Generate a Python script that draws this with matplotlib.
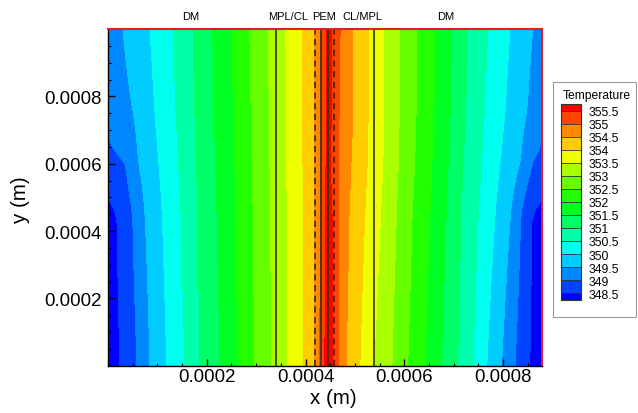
import numpy as np
import matplotlib
matplotlib.use('Agg')
import matplotlib.pyplot as plt
from matplotlib.colors import ListedColormap, BoundaryNorm

plt.rcParams['font.family'] = ['Liberation Sans', 'DejaVu Sans']

# contour levels and band colours (Tecplot small rainbow, 16 bands)
levels = np.arange(348.5, 355.51, 0.5)
band_colors = ['#0000ff', '#0044ff', '#0088ff', '#00ccff', '#00ffee', '#00ffaa',
               '#00ff66', '#00ff22', '#22ff00', '#66ff00', '#aaff00', '#eeff00',
               '#ffcc00', '#ff8800', '#ff4400', '#ff0000']

# temperature read along rows of the picture: x in um, T in K
row_y_mm = [0.0, 0.45, 0.6, 0.75, 1.0]

bot_x = [0, 24, 59, 85, 119, 156, 186, 227, 263, 297, 332, 364, 397, 419, 429, 439, 447,
         455, 466, 482, 510, 538, 575, 607, 642, 675, 708, 739, 767, 797, 824, 854, 880]
bot_T = [348.2, 348.5, 349, 349.5, 350, 350.5, 351, 351.5, 352, 352.5, 353, 353.5, 354, 354.5,
         355, 355.5, 355.7, 355.5, 355, 354.5, 354, 353.5, 353, 352.5, 352, 351.5, 351, 350.5,
         350, 349.5, 349, 348.5, 348.2]

r045_x = [0, 18, 50, 75, 110, 148, 182, 221, 259, 294, 329, 363, 396, 419, 430, 440, 447,
          454, 466, 488, 520, 552, 584, 616, 652, 685, 715, 750, 784, 815, 836, 858, 880]
r045_T = [348.35, 348.5, 349, 349.5, 350, 350.5, 351, 351.5, 352, 352.5, 353, 353.5, 354, 354.5,
          355, 355.5, 355.6, 355.5, 355, 354.5, 354, 353.5, 353, 352.5, 352, 351.5, 351, 350.5,
          350, 349.5, 349, 348.5, 348.35]

r060_x = [0, 35, 62, 103, 143, 179, 218, 257, 292, 328, 362, 395, 419, 431, 441, 447,
          451, 466, 492, 525, 557, 588, 621, 656, 689, 719, 756, 794, 835, 860, 880]
r060_T = [348.85, 349, 349.5, 350, 350.5, 351, 351.5, 352, 352.5, 353, 353.5, 354, 354.5,
          355, 355.5, 355.6, 355.5, 355, 354.5, 354, 353.5, 353, 352.5, 352, 351.5, 351, 350.5,
          350, 349.5, 349, 348.85]

r075_x = [0, 51, 95, 138, 176, 215, 254, 290, 327, 362, 395, 419, 431, 443, 447,
          452, 468, 496, 527, 557, 590, 624, 660, 693, 724, 762, 804, 848, 880]
r075_T = [349.15, 349.5, 350, 350.5, 351, 351.5, 352, 352.5, 353, 353.5, 354, 354.5,
          355, 355.5, 355.65, 355.5, 355, 354.5, 354, 353.5, 353, 352.5, 352, 351.5, 351, 350.5,
          350, 349.5, 349.15]

top_x = [0, 30, 85, 132, 172, 212, 251, 287, 324, 360, 395, 419, 430, 443, 447,
         453, 470, 496, 527, 557, 591, 625, 662, 696, 729, 769, 814, 860, 880]
top_T = [349.3, 349.5, 350, 350.5, 351, 351.5, 352, 352.5, 353, 353.5, 354, 354.5,
         355, 355.5, 355.7, 355.5, 355, 354.5, 354, 353.5, 353, 352.5, 352, 351.5, 351, 350.5,
         350, 349.5, 349.3]

rows = [(bot_x, bot_T), (r045_x, r045_T), (r060_x, r060_T), (r075_x, r075_T), (top_x, top_T)]

# layer interfaces (um)
solid_lines = [340, 431, 446, 538]
dashed_lines = [420, 457]

# grid
xg = np.linspace(0, 880, 441)
yg = np.linspace(0, 1.0, 301)
rowT = np.array([np.interp(xg, rx, rt) for rx, rt in rows])
T = np.array([np.interp(yg, row_y_mm, rowT[:, j]) for j in range(len(xg))]).T

# round off the kinks between rows (moving average along y)
k = 21
kern = np.ones(k) / k
Tp = np.pad(T, ((k // 2, k // 2), (0, 0)), mode='edge')
T = np.array([np.convolve(Tp[:, j], kern, mode='valid') for j in range(T.shape[1])]).T

fig = plt.figure(figsize=(6.38, 4.14), dpi=100)
ax = fig.add_axes([0.1693, 0.1143, 0.6810, 0.8132])

cmap = ListedColormap(band_colors[1:-1])
cmap.set_under(band_colors[0])
cmap.set_over(band_colors[-1])
norm = BoundaryNorm(levels, cmap.N)
cf = ax.contourf(xg * 1e-6, yg * 1e-3, T, levels=levels, cmap=cmap, norm=norm, extend='both')

for xl in solid_lines:
    ax.axvline(xl * 1e-6, color='#333300', lw=1.2)
for xl in dashed_lines:
    ax.axvline(xl * 1e-6, color='#222200', lw=1.1, ls=(0, (4, 3)))

ax.set_xlim(0, 880e-6)
ax.set_ylim(0, 1.0e-3)
ax.set_xticks([0.0002, 0.0004, 0.0006, 0.0008])
ax.set_yticks([0.0002, 0.0004, 0.0006, 0.0008])
ax.set_xticklabels(['0.0002', '0.0004', '0.0006', '0.0008'])
ax.set_yticklabels(['0.0002', '0.0004', '0.0006', '0.0008'])
ax.set_xticks(np.arange(0.00005, 0.00088, 0.00005), minor=True)
ax.set_yticks(np.arange(0.00005, 0.001, 0.00005), minor=True)
ax.tick_params(which='major', direction='in', length=5, width=1, labelsize=13.4)
ax.tick_params(which='minor', direction='in', length=2.5, width=0.8)
ax.tick_params(axis='x', which='major', pad=2)
ax.tick_params(axis='y', which='major', pad=4.5)
for s in ['top', 'right']:
    ax.spines[s].set_color('#e02020')
    ax.spines[s].set_linewidth(1.5)
for s in ['left', 'bottom']:
    ax.spines[s].set_color('black')
    ax.spines[s].set_linewidth(1)

# region labels above the plot
ax.text(168e-6, 1.039e-3, 'DM', ha='center', va='center', fontsize=8, clip_on=False)
ax.text(365e-6, 1.039e-3, 'MPL/CL', ha='center', va='center', fontsize=8, clip_on=False)
ax.text(437e-6, 1.039e-3, 'PEM', ha='center', va='center', fontsize=8, clip_on=False)
ax.text(515e-6, 1.039e-3, 'CL/MPL', ha='center', va='center', fontsize=8, clip_on=False)
ax.text(683e-6, 1.039e-3, 'DM', ha='center', va='center', fontsize=8, clip_on=False)

fig.text(333 / 638, 1 - 399 / 414, 'x (m)', ha='center', va='center', fontsize=14.8)
fig.text(21 / 638, 1 - 200 / 414, 'y (m)', ha='center', va='center', fontsize=14.8, rotation=90)

# legend box
box = plt.Rectangle((0.8668, 0.2319), 0.1301, 0.5676, transform=fig.transFigure,
                    facecolor='white', edgecolor='#999999', lw=0.8, zorder=-1)
fig.add_artist(box)
fig.text(563 / 638, 1 - 96 / 414, 'Temperature', ha='left', va='center', fontsize=8.7)

cax = fig.add_axes([0.8788, 0.2737, 0.0313, 0.4727])
cb = fig.colorbar(cf, cax=cax, extendrect=True, extendfrac=0.5 / 14, drawedges=True)
cb.set_ticks(levels)
cb.set_ticklabels([f'{v:g}' for v in levels])
cb.ax.tick_params(length=0, labelsize=8.8, pad=6)
cb.outline.set_edgecolor('#333333')
cb.outline.set_linewidth(0.8)
cb.dividers.set_color('#333333')
cb.dividers.set_linewidth(0.6)

fig.savefig('out.png', dpi=100)
